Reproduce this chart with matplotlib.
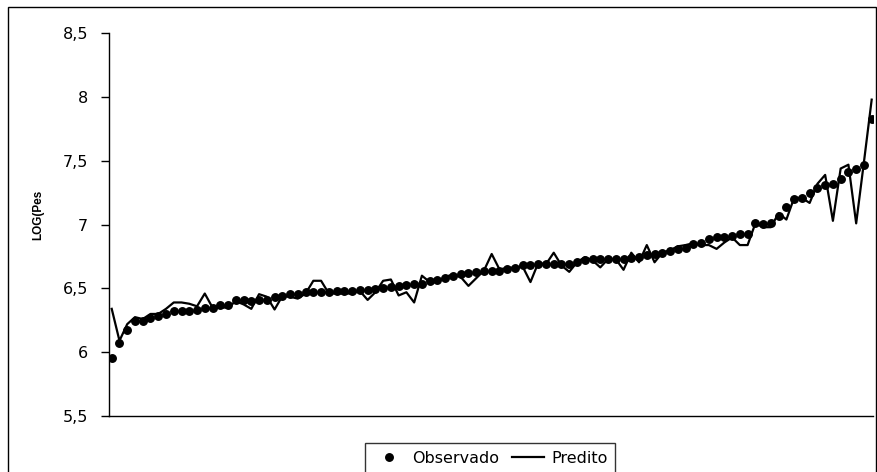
import matplotlib.pyplot as plt
import matplotlib.patches as patches
from matplotlib.lines import Line2D
from matplotlib.ticker import FuncFormatter
import numpy as np

plt.rcParams['font.family'] = ['DejaVu Sans']

# valores (99 pontos)
observado = [
    5.955, 6.076, 6.177, 6.245, 6.245, 6.27, 6.28, 6.30, 6.32, 6.32,
    6.32, 6.33, 6.35, 6.35, 6.367, 6.367, 6.406, 6.406, 6.40, 6.41,
    6.406, 6.43, 6.44, 6.46, 6.46, 6.47, 6.47, 6.47, 6.47, 6.48,
    6.48, 6.48, 6.484, 6.49, 6.497, 6.505, 6.51, 6.52, 6.53, 6.535,
    6.535, 6.557, 6.57, 6.58, 6.60, 6.61, 6.62, 6.63, 6.635, 6.64,
    6.64, 6.65, 6.66, 6.68, 6.68, 6.69, 6.69, 6.69, 6.69, 6.69,
    6.705, 6.72, 6.73, 6.73, 6.73, 6.73, 6.73, 6.74, 6.75, 6.76,
    6.77, 6.78, 6.79, 6.81, 6.82, 6.85, 6.86, 6.89, 6.90, 6.90,
    6.91, 6.93, 6.93, 7.01, 7.005, 7.01, 7.07, 7.135, 7.20, 7.21,
    7.25, 7.29, 7.31, 7.32, 7.36, 7.41, 7.44, 7.47, 7.83,
]
predito = [
    6.34, 6.09, 6.22, 6.275, 6.26, 6.30, 6.30, 6.34, 6.39, 6.39,
    6.38, 6.36, 6.46, 6.35, 6.35, 6.35, 6.40, 6.375, 6.34, 6.455,
    6.435, 6.335, 6.44, 6.435, 6.42, 6.46, 6.56, 6.56, 6.46, 6.46,
    6.46, 6.46, 6.48, 6.41, 6.47, 6.56, 6.57, 6.445, 6.47, 6.39,
    6.60, 6.55, 6.55, 6.59, 6.61, 6.59, 6.52, 6.58, 6.64, 6.77,
    6.65, 6.66, 6.665, 6.67, 6.55, 6.70, 6.69, 6.78, 6.68, 6.63,
    6.705, 6.745, 6.72, 6.665, 6.73, 6.73, 6.646, 6.78, 6.705, 6.84,
    6.705, 6.78, 6.80, 6.83, 6.84, 6.855, 6.84, 6.84, 6.81, 6.86,
    6.90, 6.84, 6.84, 7.01, 6.98, 6.98, 7.09, 7.04, 7.21, 7.21,
    7.17, 7.32, 7.39, 7.03, 7.44, 7.47, 7.01, 7.49, 7.98,
]
y_ticks = [5.5, 6, 6.5, 7, 7.5, 8, 8.5]

W, H = 877, 472
fig = plt.figure(figsize=(W / 100, H / 100), dpi=100)
ax = fig.add_axes([109 / W, 1 - 416 / H, (873 - 109) / W, (416 - 33.3) / H])

x = np.arange(len(observado))
ax.plot(x, predito, color='black', lw=1.6, zorder=2)
ax.plot(x, observado, 'o', color='black', ms=5.4, zorder=3)

ax.set_xlim(-0.35, len(observado) - 1 + 0.17)
ax.set_ylim(5.5, 8.5)
ax.set_yticks(y_ticks)
ax.yaxis.set_major_formatter(FuncFormatter(lambda v, p: ('%g' % v).replace('.', ',')))
ax.tick_params(axis='y', direction='out', length=6, width=1, labelsize=11.5, pad=9)
ax.set_xticks([])
for s in ['top', 'right']:
    ax.spines[s].set_visible(False)
for s in ['left', 'bottom']:
    ax.spines[s].set_linewidth(1)

fig.text(38 / W, 1 - 215 / H, 'LOG(Pes', rotation=90, fontsize=8.5,
         fontweight='bold', ha='center', va='center', family='Liberation Sans')

# moldura externa
fig.patches.append(patches.Rectangle((8 / W, -0.1), (875.5 - 8) / W, 1.1 - 7 / H,
                                     transform=fig.transFigure, fill=False,
                                     edgecolor='black', lw=1))

handles = [Line2D([], [], ls='none', marker='o', color='black', ms=5.4),
           Line2D([], [], color='black', lw=1.6)]
leg = fig.legend(handles, ['Observado', 'Predito'], ncol=2, loc='upper left',
                 bbox_to_anchor=(365 / W, 1 - 443 / H), frameon=True, fancybox=False,
                 edgecolor='black', fontsize=11.5, handlelength=2.0,
                 columnspacing=0.8, handletextpad=0.45, borderpad=0.5,
                 borderaxespad=0)
leg.get_frame().set_linewidth(1)

fig.savefig('out.png', dpi=100)
